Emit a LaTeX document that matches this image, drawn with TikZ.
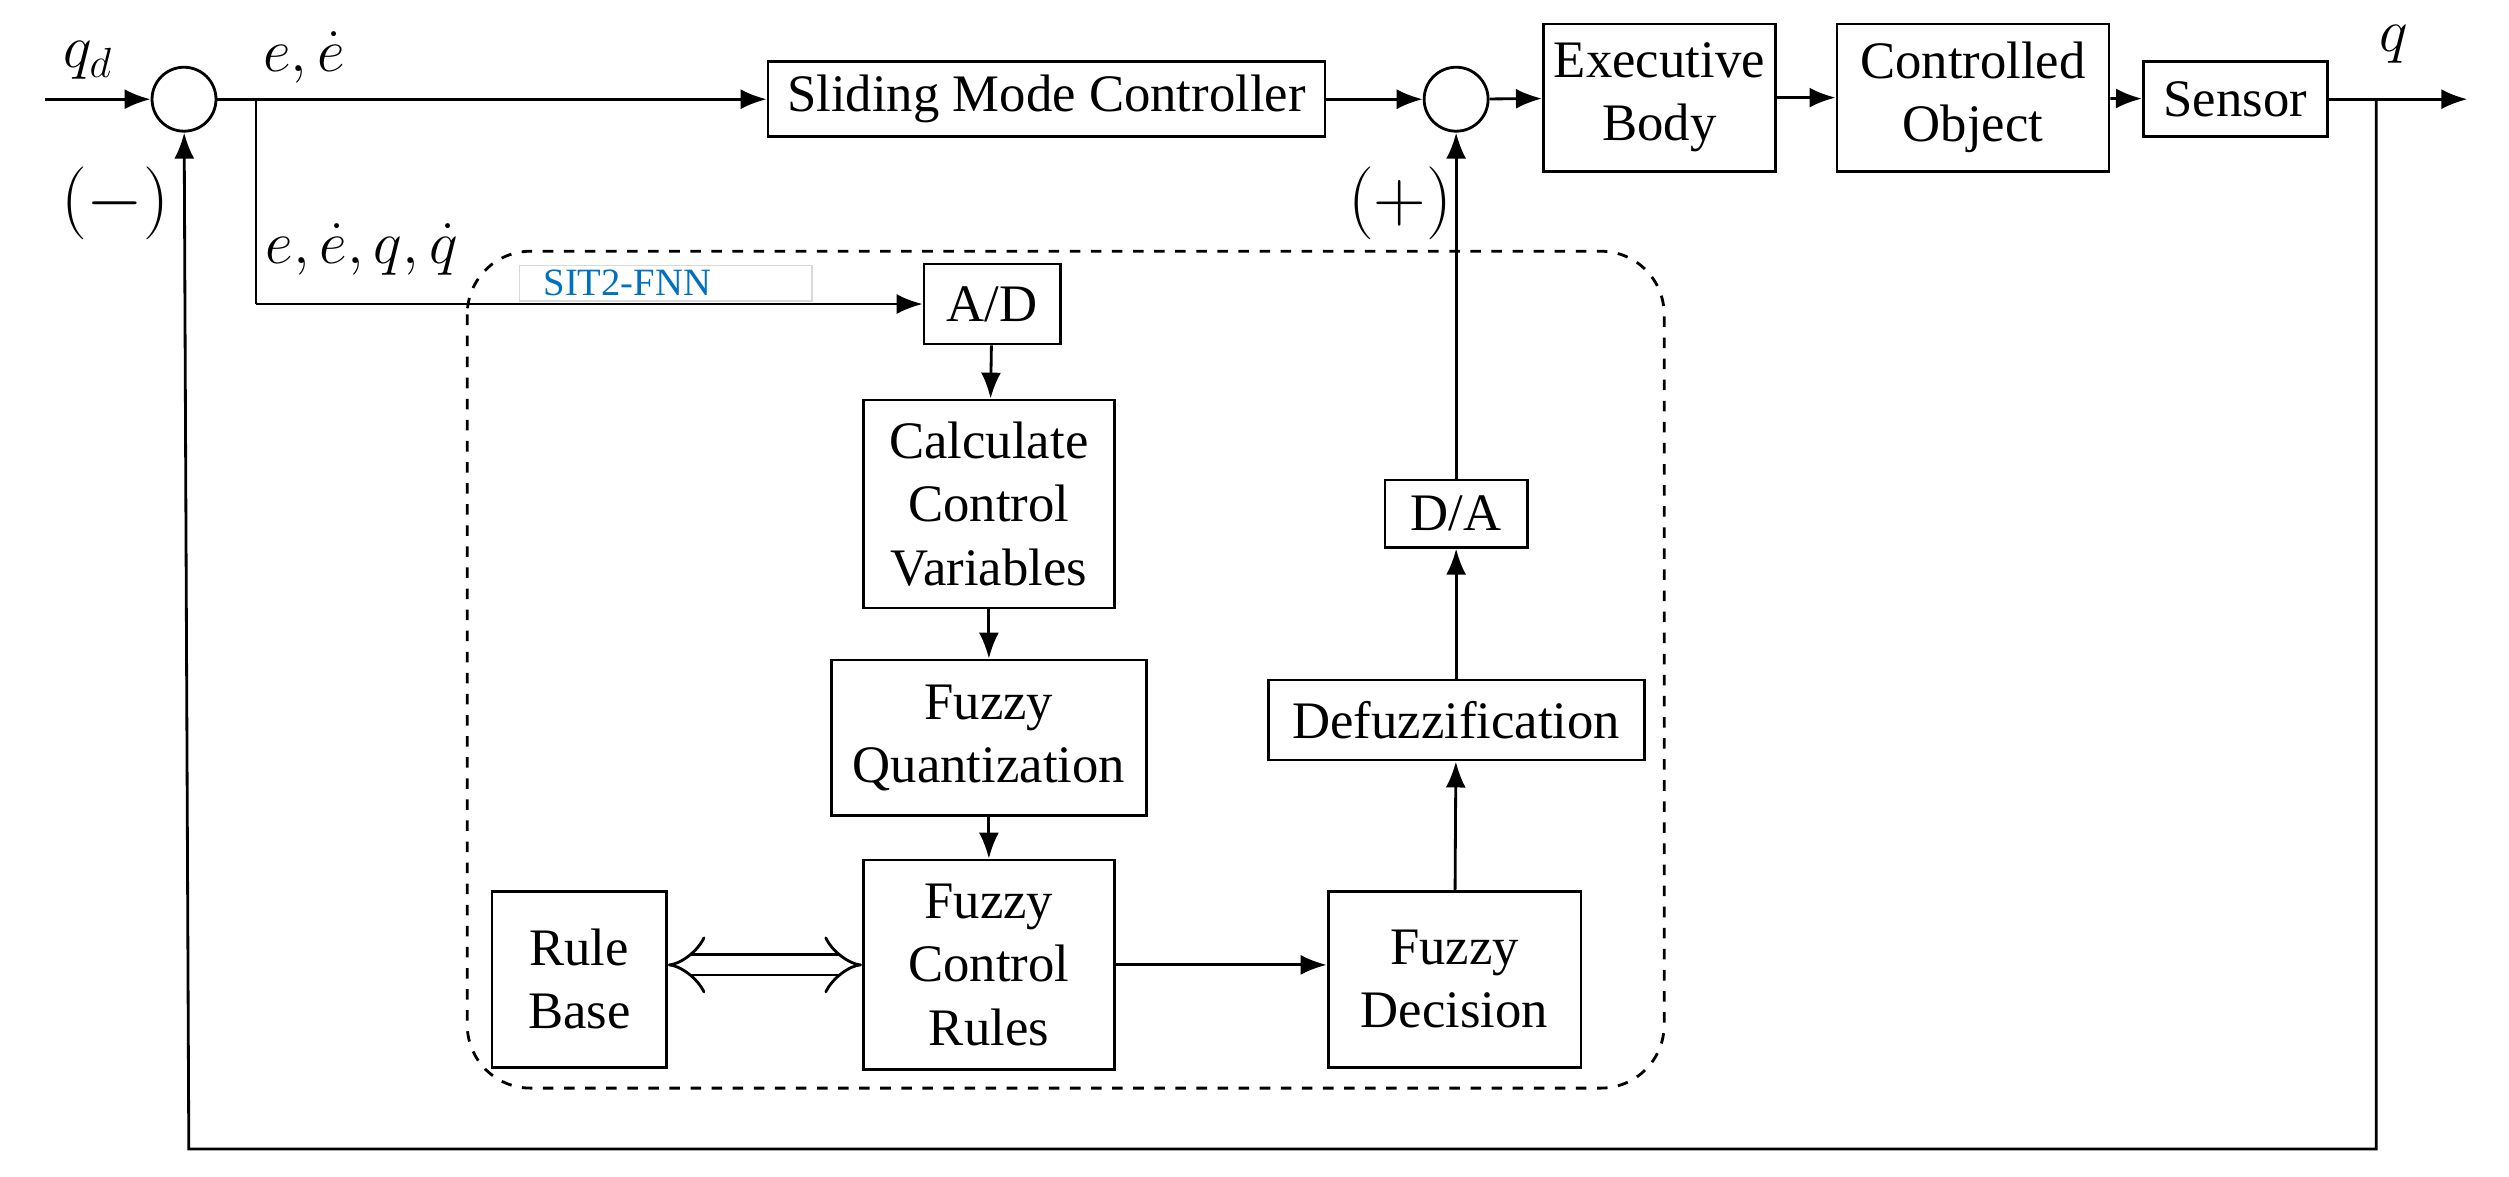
\documentclass[tikz,border=0pt]{standalone}
\usepackage{fontspec}
\setmainfont{Liberation Serif}
\usetikzlibrary{arrows,arrows.meta,positioning}
\definecolor{fnnblue}{RGB}{0,112,192}
\tikzset{
  blk/.style={draw,thick,align=center,inner sep=0pt},
  sumc/.style={draw,thick,circle,minimum size=0.64cm,inner sep=0pt},
  sig/.style={thick,-{Latex[length=2.6mm,width=2mm]}},
  lab/.style={font=\fontsize{17}{20}\selectfont,inner sep=1pt},
}
\begin{document}
\begin{tikzpicture}[x=0.016cm,y=-0.016cm,font=\fontsize{15}{18}\selectfont]
      \useasboundingbox (0,0) rectangle (1568,735);

      % main loop
      \node[sumc] (s1) at (115,62) {};
      \node[sumc] (s2) at (910,62) {};
      \node[blk,minimum width=348*0.016cm,minimum height=47*0.016cm] (smc) at (654,62) {Sliding Mode Controller};
      \node[blk,minimum width=145*0.016cm,minimum height=92*0.016cm] (exb) at (1037,61) {Executive\\Body};
      \node[blk,minimum width=170*0.016cm,minimum height=92*0.016cm] (obj) at (1233,61) {Controlled\\Object};
      \node[blk,minimum width=115*0.016cm,minimum height=47*0.016cm] (sen) at (1397,62) {Sensor};

      \coordinate (in) at (28,62);
      \coordinate (out) at (1542,62);
      \coordinate (br) at (160,62);
      \coordinate (fb) at (1485,62);
      \coordinate (fb1) at (1485,718);
      \coordinate (fb2) at (118,718);
      \coordinate (bd) at (160,190);

      \draw[sig] (in) -- (s1);
      \draw[sig] (s1) -- (smc);
      \draw[sig] (smc) -- (s2);
      \draw[sig] (s2) -- (exb);
      \draw[sig] (exb) -- (obj);
      \draw[sig] (obj) -- (sen);
      \draw[sig] (sen) -- (out);
      \draw[sig] (fb) -- (fb1) -- (fb2) -- (s1);

      \node[lab] (qd) at (55,38) {$q_d$};
      \node[lab] (ee) at (190,36) {$e,\dot e$};
      \node[lab] (q) at (1496,28) {$q$};
      \node[font=\fontsize{21}{24}\selectfont] (mn) at (72,127) {$(-)$};
      \node[font=\fontsize{21}{24}\selectfont] (pl) at (875,127) {$(+)$};
      \node[lab] (eq) at (226,156) {$e,\dot e,q,\dot q$};

      % SIT2-FNN
      \draw[thick,dashed,rounded corners=18] (292,157) rectangle (1040,680);
      \node[draw=black!15,minimum width=183*0.016cm,minimum height=22*0.016cm,inner sep=0pt] (lbl) at (416,177) {};
      \node[text=fnnblue,font=\fontsize{11}{13}\selectfont] (fnn) at (392,177) {SIT2-FNN};

      \node[blk,minimum width=85*0.016cm,minimum height=50*0.016cm] (ad) at (620,190) {A/D};
      \node[blk,minimum width=157*0.016cm,minimum height=130*0.016cm] (ccv) at (618,315) {Calculate\\Control\\Variables};
      \node[blk,minimum width=197*0.016cm,minimum height=97*0.016cm] (fq) at (618,461) {Fuzzy\\Quantization};
      \node[blk,minimum width=157*0.016cm,minimum height=131*0.016cm] (fcr) at (618,603) {Fuzzy\\Control\\Rules};
      \node[blk,minimum width=109*0.016cm,minimum height=110*0.016cm] (rb) at (362,612) {Rule\\Base};
      \node[blk,minimum width=158*0.016cm,minimum height=110*0.016cm] (fd) at (909,612) {Fuzzy\\Decision};
      \node[blk,minimum width=235*0.016cm,minimum height=50*0.016cm] (dfz) at (910,450) {Defuzzification};
      \node[blk,minimum width=89*0.016cm,minimum height=42*0.016cm] (da) at (910,321) {D/A};

      \draw[thick] (br) -- (bd);
      \draw[sig] (bd) -- (ad);
      \draw[sig] (ad) -- (ccv);
      \draw[sig] (ccv) -- (fq);
      \draw[sig] (fq) -- (fcr);
      \draw[sig] (fcr.east |- 0,603) -- (fd.west |- 0,603);
      \draw[sig] (fd) -- (dfz);
      \draw[sig] (dfz) -- (da);
      \draw[sig] (da) -- (s2);
      \draw[thick,double,double distance=5pt,{Implies}-{Implies}] (rb.east |- 0,603) -- (fcr.west |- 0,603);
    \end{tikzpicture}
\end{document}
